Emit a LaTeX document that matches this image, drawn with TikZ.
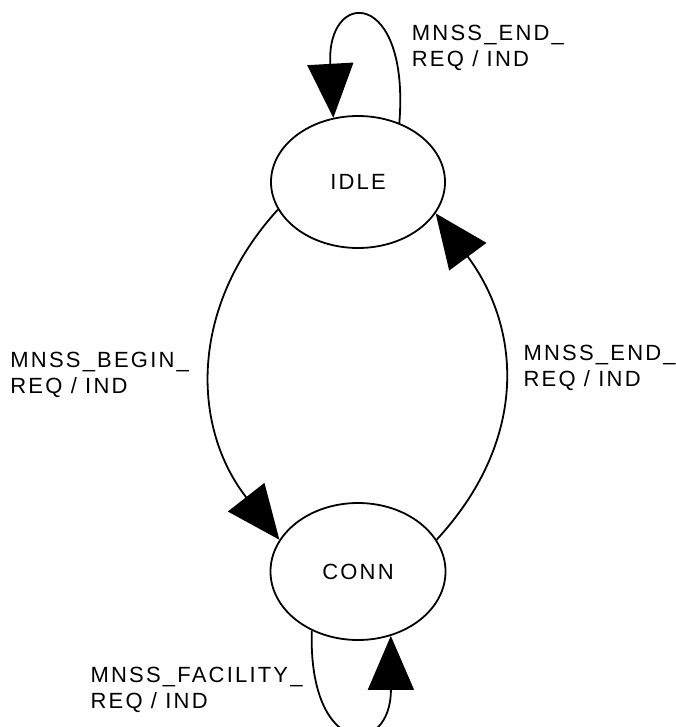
\documentclass[tikz,border=0pt]{standalone}
\usepackage{fontspec}
\newfontfamily\lblfont{Liberation Sans}[LetterSpace=10]
\usetikzlibrary{arrows.meta,shapes.geometric}
\begin{document}
\begin{tikzpicture}[x=1pt,y=-1pt,
  txt/.style={font=\lblfont\fontsize{22}{26}\selectfont},
  state/.style={txt,draw,ellipse,line width=1.8pt,inner sep=0pt,
    minimum width=174pt,minimum height=132pt},
  trans/.style={line width=1.8pt,-{Triangle[length=54pt,width=46pt]}},
  lbl/.style={txt,anchor=north west,inner sep=0pt,align=left}]
\useasboundingbox (0,0) rectangle (676,727);

% states
\node[state] (idle) at (358,182) {IDLE};
\node[state,minimum width=175pt,minimum height=137pt] (conn) at (358,571.5) {CONN};

% transitions
\draw[trans] (idle.55) .. controls (410,-12) and (326,-12) .. (idle.111);
\draw[trans] (idle.199) .. controls (188,308) and (192,428) .. (conn.158);
\draw[trans] (conn.22) .. controls (527,442) and (523,331) .. (idle.338);
\draw[trans] (conn.232) .. controls (308,758) and (391,758) .. (conn.297);

% transition labels
\node[lbl] (lend1) at (411.7,24.7) {MNSS\_END\_\\REQ / IND};
\node[lbl] (lbegin) at (10.2,351.7) {MNSS\_BEGIN\_\\REQ / IND};
\node[lbl] (lend2) at (523.4,344.7) {MNSS\_END\_\\REQ / IND};
\node[lbl] (lfac) at (90.4,666.7) {MNSS\_FACILITY\_\\REQ / IND};
\end{tikzpicture}
\end{document}
